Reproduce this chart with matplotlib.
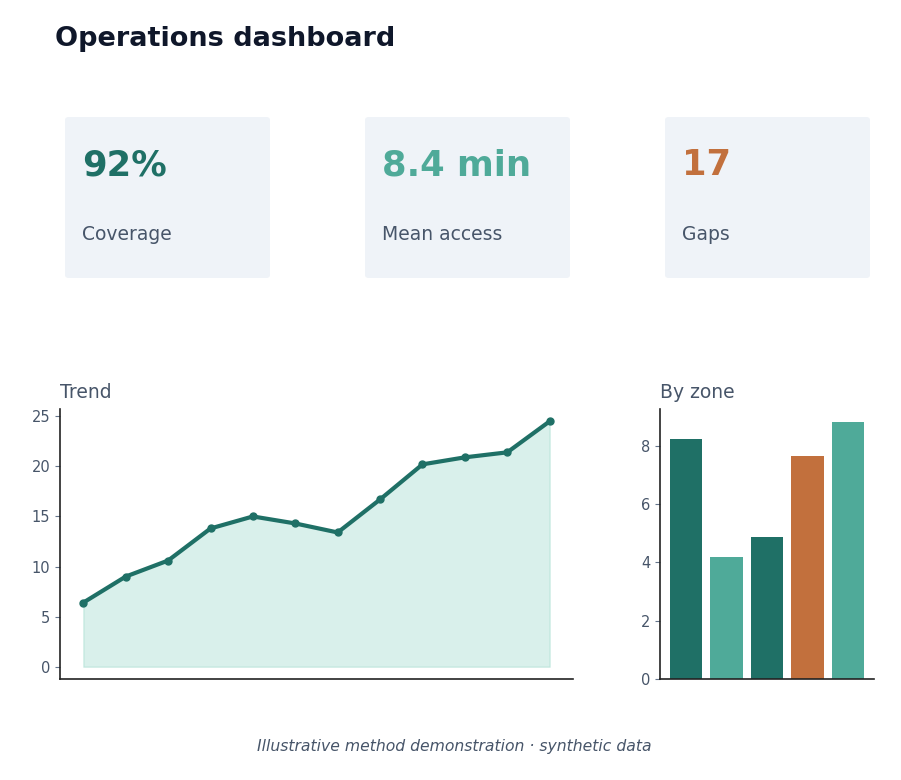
import matplotlib.pyplot as plt
from matplotlib.patches import FancyBboxPatch

# data
trend_x = list(range(12))
trend_y = [6.4, 9.0, 10.6, 13.8, 15.0, 14.3, 13.4, 16.7, 20.2, 20.9, 21.4, 24.5]

zones = ["A", "B", "C", "D", "E"]
zone_vals = [8.24, 4.19, 4.88, 7.66, 8.82]

kpi_values = ["92%", "8.4 min", "17"]
kpi_labels = ["Coverage", "Mean access", "Gaps"]

DARK = "#1f7066"
LIGHT = "#4faa99"
ORANGE = "#c2703d"
SLATE = "#475569"
INK = "#0f172a"
CARD = "#eff3f8"

kpi_colors = [DARK, LIGHT, ORANGE]
zone_colors = [DARK, LIGHT, DARK, ORANGE, LIGHT]

W, H = 901, 780
fig = plt.figure(figsize=(W / 100, H / 100), dpi=100)


def fx(px):
    return px / W


def fy(py):
    return 1 - py / H


fig.text(fx(55), fy(39), "Operations dashboard", fontsize=19.5, fontweight="bold",
         color=INK, ha="left", va="center")

# kpi cards
card_left = [65, 365, 665]
for i in range(3):
    x0 = card_left[i]
    box = FancyBboxPatch((fx(x0), fy(278)), fx(205), fy(117) - fy(278),
                         boxstyle="round,pad=0,rounding_size=0.004",
                         transform=fig.transFigure, facecolor=CARD,
                         edgecolor="none", zorder=0)
    fig.patches.append(box)
    fig.text(fx(x0 + 17), fy(165), kpi_values[i], fontsize=25.5, fontweight="bold",
             color=kpi_colors[i], ha="left", va="center")
    fig.text(fx(x0 + 17), fy(235), kpi_labels[i], fontsize=13.5,
             color=SLATE, ha="left", va="center")


def style(ax):
    for s in ["top", "right"]:
        ax.spines[s].set_visible(False)
    for s in ["left", "bottom"]:
        ax.spines[s].set_color("#222222")
        ax.spines[s].set_linewidth(1.2)
    ax.tick_params(axis="y", colors="#64748b", labelcolor=SLATE, labelsize=10.5)
    ax.set_xticks([])


# trend
ax1 = fig.add_axes([fx(60), fy(679), fx(513), (679 - 409) / H])
ax1.fill_between(trend_x, trend_y, color="#45b89c", alpha=0.2, lw=1)
ax1.plot(trend_x, trend_y, "-o", color=DARK, lw=3, markersize=5)
ax1.set_yticks([0, 5, 10, 15, 20, 25])
style(ax1)
ax1.set_title("Trend", loc="left", fontsize=13.5, color=SLATE, pad=8)

# by zone
ax2 = fig.add_axes([fx(660), fy(679), fx(214), (679 - 409) / H])
ax2.bar(zones, zone_vals, color=zone_colors, width=0.8)
ax2.set_yticks([0, 2, 4, 6, 8])
style(ax2)
ax2.set_title("By zone", loc="left", fontsize=13.5, color=SLATE, pad=8)

fig.text(fx(454), fy(746), "Illustrative method demonstration · synthetic data",
         fontsize=11.25, style="italic", color=SLATE, ha="center", va="center")

plt.savefig("out.png", dpi=100)
